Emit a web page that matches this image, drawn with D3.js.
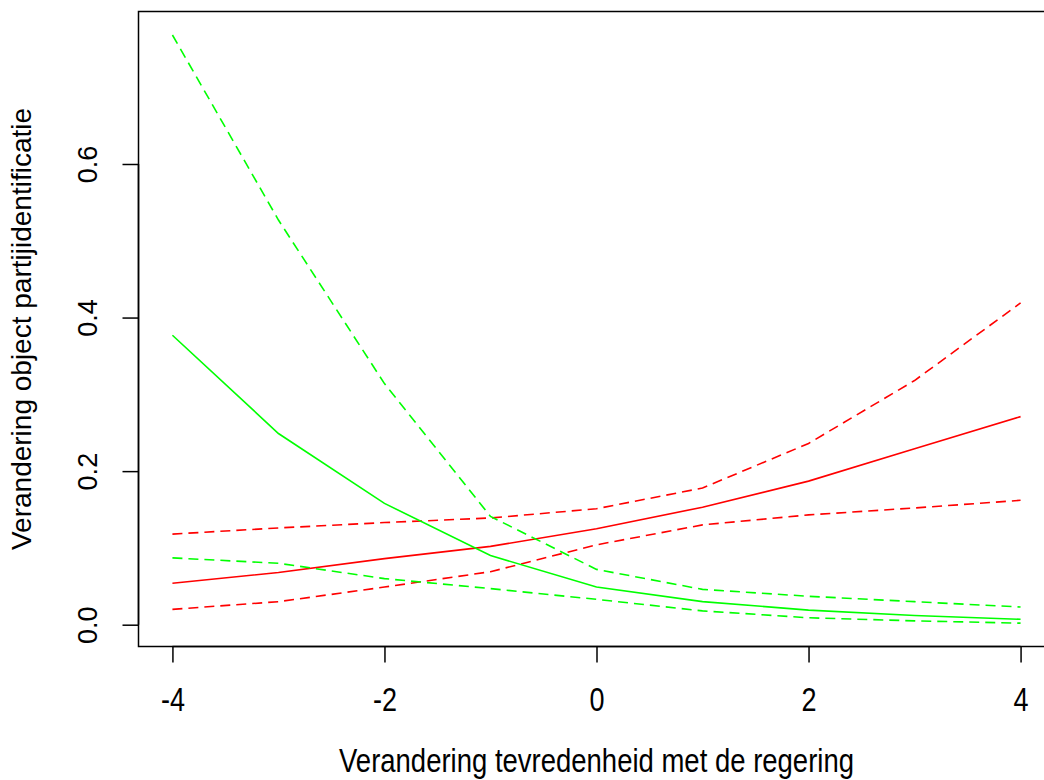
<!DOCTYPE html>
<html>
<head>
<meta charset="utf-8">
<script src="https://cdn.jsdelivr.net/npm/d3@7"></script>
<style>
  html, body { margin: 0; padding: 0; background: #fff; }
  svg { display: block; }
  text { font-family: "Liberation Sans", Arial, sans-serif; fill: #000; }
</style>
</head>
<body>
<svg id="chart" width="1044" height="780"></svg>
<script>
// Data
const xValues = [-4, -3, -2, -1, 0, 1, 2, 3, 4];
const redFit   = [0.054, 0.068, 0.086, 0.102, 0.125, 0.153, 0.187, 0.229, 0.271];
const redUpper = [0.118, 0.126, 0.133, 0.139, 0.151, 0.178, 0.236, 0.318, 0.419];
const redLower = [0.020, 0.030, 0.049, 0.069, 0.104, 0.130, 0.143, 0.152, 0.162];
const greenFit   = [0.377, 0.249, 0.158, 0.090, 0.049, 0.030, 0.019, 0.012, 0.007];
const greenUpper = [0.768, 0.527, 0.314, 0.141, 0.072, 0.046, 0.037, 0.030, 0.023];
const greenLower = [0.087, 0.080, 0.060, 0.047, 0.033, 0.018, 0.009, 0.005, 0.002];
const xTicks = [-4, -2, 0, 2, 4];
const yTicks = [0.0, 0.2, 0.4, 0.6];
const xTitle = "Verandering tevredenheid met de regering";
const yTitle = "Verandering object partijidentificatie";

(function () {
const svg = d3.select("#chart");

// plot region (R-style: data range extended by 4%)
const xDom = [-4.32, 4.32];
const yDom = [-0.0284, 0.7986];
const pLeft = 138.5, pRight = 1054.5, pTop = 11.5, pBottom = 646.5;

const x = d3.scaleLinear().domain(xDom).range([pLeft, pRight]);
const y = d3.scaleLinear().domain(yDom).range([pBottom, pTop]);

// box
svg.append("rect")
  .attr("x", pLeft).attr("y", pTop)
  .attr("width", pRight - pLeft).attr("height", pBottom - pTop)
  .attr("fill", "none").attr("stroke", "#000").attr("stroke-width", 1.5);

// x axis
const xAxis = d3.axisBottom(x).tickValues(xTicks).tickSize(16)
  .tickFormat(d => String(d));
const gx = svg.append("g").attr("transform", `translate(0,${pBottom})`).call(xAxis);
gx.select(".domain").attr("d", `M${x(-4)},0H${x(4)}`).attr("stroke-width", 1.5);
gx.selectAll(".tick line").attr("stroke-width", 1.5);
gx.selectAll(".tick text")
  .attr("font-size", 27).attr("font-family", "Liberation Sans, Arial, sans-serif").attr("fill", "#000")
  .attr("y", 0).attr("dy", null)
  .attr("transform", `translate(0,${711 - pBottom}) scale(1,1.2)`);

// y axis
const yAxis = d3.axisLeft(y).tickValues(yTicks).tickSize(16).tickPadding(0)
  .tickFormat(d3.format(".1f"));
const gy = svg.append("g").attr("transform", `translate(${pLeft},0)`).call(yAxis);
gy.select(".domain").attr("d", `M0,${y(0)}V${y(0.6)}`).attr("stroke-width", 1.5);
gy.selectAll(".tick line").attr("stroke-width", 1.5);
gy.selectAll(".tick text")
  .attr("font-size", 27).attr("font-family", "Liberation Sans, Arial, sans-serif").attr("fill", "#000")
  .attr("x", null)
  .attr("text-anchor", "middle")
  .attr("transform", "translate(-51,0) rotate(-90)")
  .attr("dy", "0.35em");

// titles
svg.append("text")
  .attr("transform", `translate(${(pLeft + pRight) / 2},772) scale(1,1.2)`)
  .attr("text-anchor", "middle").attr("font-size", 27.5)
  .text(xTitle);
svg.append("text")
  .attr("transform", `translate(31,${(pTop + pBottom) / 2}) rotate(-90)`)
  .attr("text-anchor", "middle").attr("font-size", 28)
  .text(yTitle);

// lines
const series = [
  { vals: redUpper, color: "#FF0000", dash: "10,6" },
  { vals: redLower, color: "#FF0000", dash: "10,6" },
  { vals: redFit, color: "#FF0000", dash: null },
  { vals: greenUpper, color: "#00FF00", dash: "10,6" },
  { vals: greenLower, color: "#00FF00", dash: "10,6" },
  { vals: greenFit, color: "#00FF00", dash: null }
];
const line = d3.line().x((d, i) => x(xValues[i])).y(d => y(d));
series.forEach(s => {
  svg.append("path")
    .datum(s.vals)
    .attr("d", line)
    .attr("fill", "none")
    .attr("stroke", s.color)
    .attr("stroke-width", 1.6)
    .attr("stroke-dasharray", s.dash);
});
})();
</script>
</body>
</html>
